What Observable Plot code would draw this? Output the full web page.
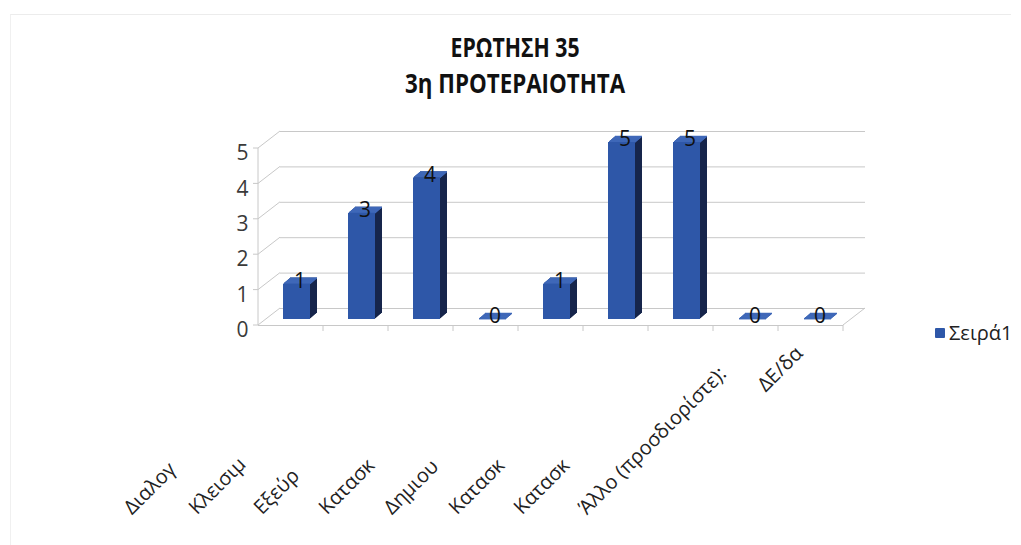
<!DOCTYPE html>
<html>
<head>
<meta charset="utf-8">
<script src="https://cdn.jsdelivr.net/npm/d3@7"></script>
<script src="https://cdn.jsdelivr.net/npm/@observablehq/plot@0.6"></script>
<style>
  html, body { margin: 0; padding: 0; background: #ffffff; }
  #wrap { position: relative; width: 1021px; height: 545px; overflow: hidden; background: #fff; }
  #frame { position: absolute; left: 10px; top: 14px; width: 1000px; height: 540px; border-top: 1px solid #ececec; border-left: 1px solid #f0f0f0; }
  .title { position: absolute; left: 0; width: 1030px; text-align: center; font-family: "Liberation Sans Narrow", "Open Sans", sans-serif; font-weight: bold; font-size: 27px; line-height: 30px; color: #111; white-space: nowrap; }
  .title span { display: inline-block; transform-origin: center center; }
  #legend { position: absolute; left: 935px; top: 319px; font-family: "Open Sans", sans-serif; font-size: 20px; color: #222; white-space: nowrap; display: flex; align-items: center; }
  #legend .sw { display: inline-block; width: 10px; height: 10px; background: #2e57a8; margin-right: 4px; border-radius: 1px; }
  #chart { position: absolute; left: 0; top: 0; }
</style>
</head>
<body>
<div id="wrap">
  <div id="frame"></div>
  <div id="chart"></div>
  <div class="title" id="t1" style="top:32px"><span></span></div>
  <div class="title" id="t2" style="top:68px"><span></span></div>
  <div id="legend"><span class="sw"></span><span id="legtext"></span></div>
</div>
<script>
// ---- data ----
const titleLines = ["ΕΡΩΤΗΣΗ 35", "3η ΠΡΟΤΕΡΑΙΟΤΗΤΑ"];
const categories = ["Διαλογ", "Κλεισιμ", "Εξεύρ", "Κατασκ", "Δημιου", "Κατασκ", "Κατασκ", "Άλλο (προσδιορίστε):", "ΔΕ/δα"];
const values = [1, 3, 4, 0, 1, 5, 5, 0, 0];
const yTicks = [0, 1, 2, 3, 4, 5];
const seriesName = "Σειρά1";

// ---- styles ----
const FRONT = "#2e57a8", SIDE = "#16254b", TOP = "#3f68b8", GRID = "#c8c8c8";
const FONT = "'Open Sans', sans-serif";
const DEPTH = d3.range(1, 8);

const data = values.map((v, i) => ({i, label: categories[i], value: v}));
const complete = data.filter(d => d.i === 8);
const clipped = data.filter(d => d.i !== 8);

const sideMarks = DEPTH.map(k => Plot.rect(data, {
  x: "i", y1: 0, y2: "value", insetLeft: 25, insetRight: 13, dx: k, dy: -0.85 * k, fill: SIDE
}));
const topMarks = DEPTH.map(k => Plot.tickY(data, {
  x: "i", y: "value", insetLeft: 25, insetRight: 13, dx: k, dy: -0.85 * k, stroke: TOP, strokeWidth: 1.6
}));

const plot = Plot.plot({
  width: 1021,
  height: 545,
  marginLeft: 258,
  marginRight: 178,
  marginTop: 142,
  marginBottom: 226,
  style: {fontFamily: FONT, background: "transparent"},
  x: {type: "band", domain: d3.range(categories.length), padding: 0, axis: null},
  y: {domain: [0, 5], axis: null, label: null},
  marks: [
    Plot.ruleY(yTicks, {dx: 22, dy: -11, stroke: GRID, strokeWidth: 1}),
    Plot.ruleY([0], {dy: 6, stroke: GRID, strokeWidth: 1}),
    ...sideMarks,
    ...topMarks,
    Plot.rect(data, {x: "i", y1: 0, y2: "value", insetLeft: 25, insetRight: 13, fill: FRONT}),
    Plot.text(data, {x: "i", y: "value", text: d => String(d.value), dx: 9, dy: -3, fontSize: 21, fill: "#111"}),
    Plot.axisY(yTicks, {tickSize: 0, tickPadding: 10, dy: 11, fontSize: 21, color: "#3a3a3a", label: null}),
    Plot.text(clipped, {x: "i", frameAnchor: "bottom", text: "label", rotate: -45, textAnchor: "start", lineAnchor: "bottom", dx: -159, dy: 196, fontSize: 20, fill: "#222"}),
    Plot.text(complete, {x: "i", frameAnchor: "bottom", text: "label", rotate: -45, textAnchor: "end", lineAnchor: "bottom", dx: -7, dy: 35, fontSize: 20, fill: "#222"})
  ]
});

// ---- 3D frame (side wall, floor edge, category ticks) using the plot's scales ----
const ys = plot.scale("y"), xs = plot.scale("x");
const xLeft = xs.apply(0), bw = xs.bandwidth;
const xRight = xs.apply(categories.length - 1) + bw;
const g = d3.select(plot).insert("g", ":first-child").attr("stroke", GRID).attr("fill", "none");
g.append("line").attr("x1", xLeft).attr("x2", xLeft).attr("y1", ys.apply(5) + 6).attr("y2", ys.apply(0) + 6);
for (const t of yTicks) {
  const yf = ys.apply(t) + 6, yb = ys.apply(t) - 11;
  g.append("line").attr("x1", xLeft).attr("y1", yf).attr("x2", xLeft + 22).attr("y2", yb);
  g.append("line").attr("x1", xLeft - 5).attr("y1", yf).attr("x2", xLeft).attr("y2", yf);
}
g.append("line").attr("x1", xRight).attr("y1", ys.apply(0) + 6).attr("x2", xRight + 22).attr("y2", ys.apply(0) - 11);
for (let i = 1; i <= categories.length; i++) {
  const x = xLeft + i * bw;
  g.append("line").attr("x1", x).attr("x2", x).attr("y1", ys.apply(0) + 6).attr("y2", ys.apply(0) + 12);
}

document.getElementById("chart").appendChild(plot);

// ---- title & legend ----
const targets = [129, 220];
["t1", "t2"].forEach((id, k) => {
  const span = document.querySelector("#" + id + " span");
  span.textContent = titleLines[k];
  const w = span.getBoundingClientRect().width;
  span.style.transform = `scaleX(${targets[k] / w})`;
});
document.getElementById("legtext").textContent = seriesName;
</script>
</body>
</html>
